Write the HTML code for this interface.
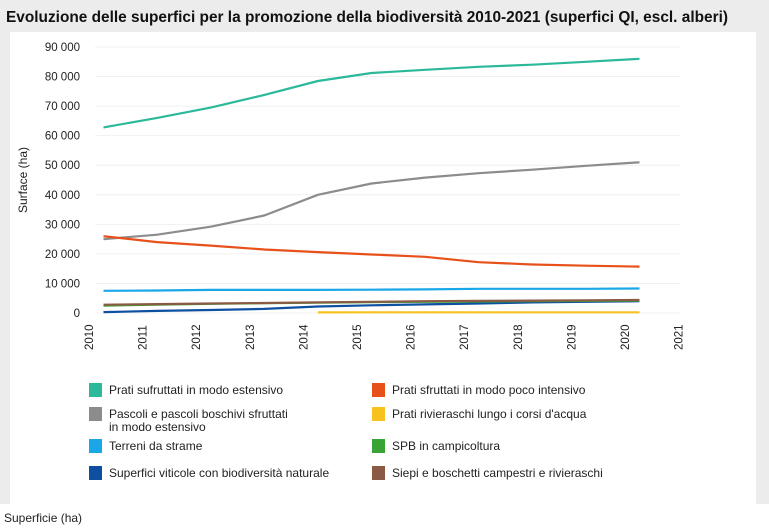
<!DOCTYPE html>
<html><head><meta charset="utf-8"><style>
body{margin:0;width:769px;height:529px;background:#ececec;font-family:"Liberation Sans",sans-serif;overflow:hidden}
svg{display:block}
</style></head><body>
<svg width="769" height="529" id="c">
<rect x="0" y="0" width="769" height="529" fill="#ececec"/>
<rect x="10" y="32" width="746" height="472" fill="#fff"/>
<rect x="0" y="504" width="769" height="25" fill="#fff"/>
<text x="6" y="22" font-size="16" font-weight="bold" fill="#111" textLength="722" lengthAdjust="spacingAndGlyphs">Evoluzione delle superfici per la promozione della biodiversità 2010-2021 (superfici QI, escl. alberi)</text>
<text transform="translate(27,180) rotate(-90)" text-anchor="middle" font-size="12" fill="#222">Surface (ha)</text>
<text x="4" y="522" font-size="12" fill="#222">Superficie (ha)</text>
<g id="grid"></g><g id="yt"></g><g id="xt"></g><g id="lines"></g><g id="legend"></g>
</svg>
<script>
const years=[2010,2011,2012,2013,2014,2015,2016,2017,2018,2019,2020,2021];
const yTicks=[0,10000,20000,30000,40000,50000,60000,70000,80000,90000];
const names=["Prati sufruttati in modo estensivo","Pascoli e pascoli boschivi sfruttati|in modo estensivo","Terreni da strame","Superfici viticole con biodiversità naturale","Prati sfruttati in modo poco intensivo","Prati rivieraschi lungo i corsi d'acqua","SPB in campicoltura","Siepi e boschetti campestri e rivieraschi"];
const colors=["#2bb99a","#8c8c8c","#1aa7e8","#0d4fa0","#e8501a","#f7c21e","#3aa336","#8b5a45"];
const sPratiEst=[62800,66000,69500,73800,78500,81200,82300,83300,84000,85000,86000];
const sPascoli=[25000,26500,29200,33000,40000,43800,45800,47300,48500,49800,51000];
const sStrame=[7500,7600,7800,7800,7800,7900,8000,8200,8200,8200,8300];
const sViticole=[300,700,1000,1400,2200,2600,2900,3200,3600,3800,4000];
const sPocoInt=[26000,24000,22800,21500,20600,19800,19000,17200,16400,16000,15700];
const sRivieraschi=[null,null,null,null,200,250,250,250,250,250,250];
const sSPB=[2500,2800,3100,3300,3500,3700,3800,3900,4000,4100,4200];
const sSiepi=[2800,3000,3200,3400,3600,3800,4000,4100,4200,4300,4400];
const series=[sPratiEst,sPascoli,sStrame,sViticole,sPocoInt,sRivieraschi,sSPB,sSiepi];
const NS="http://www.w3.org/2000/svg";
const X=i=>89+53.6*i, Y=v=>313-v*266/90000;
function mk(p,t,a){const e=document.createElementNS(NS,t);for(const k in a)e.setAttribute(k,a[k]);p.appendChild(e);return e;}
const g=document.getElementById('grid'),yt=document.getElementById('yt'),xt=document.getElementById('xt'),ln=document.getElementById('lines'),lg=document.getElementById('legend');
yTicks.forEach(v=>{
 const l=mk(g,'line',{x1:95,x2:680,y1:Y(v),y2:Y(v),stroke:'#f0f0f0','stroke-width':1});
 
 
 const t=mk(yt,'text',{x:80,y:Y(v)+4,'text-anchor':'end','font-size':11.5,fill:'#222'});
 t.textContent=v===0?'0':(v/1000)+' 000';
 
 
});
years.forEach((y,i)=>{
 const t=mk(xt,'text',{transform:`translate(${X(i)+4},350) rotate(-90)`,'font-size':11.5,fill:'#222'});
 t.textContent=y;
 
 
});
series.forEach((s,k)=>{
 let d='';s.forEach((v,i)=>{if(v==null)return;d+=(d?'L':'M')+(X(i+0.27)).toFixed(1)+','+Y(v).toFixed(1);});
 const p=mk(ln,'path',{d:d,fill:'none',stroke:colors[k],'stroke-width':2.2,'stroke-linejoin':'round'});
 
 
});
const rowY=[390,414,446,473];
names.forEach((n,k)=>{
 const col=k<4?0:1,r=k%4,x=col?372:89,y=rowY[r];
 const gg=mk(lg,'g',{});
 
 
 mk(gg,'rect',{x:x,y:y-7,width:13,height:14,fill:colors[k]});
 n.split('|').forEach((part,j)=>{const t=mk(gg,'text',{x:x+20,y:y+4+j*13,'font-size':12,fill:'#222'});t.textContent=part;});
});
</script>
</body></html>
